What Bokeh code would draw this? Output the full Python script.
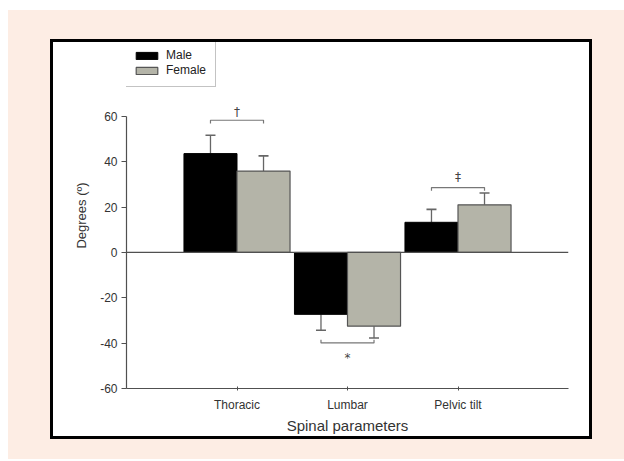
from bokeh.plotting import figure
from bokeh.models import (ColumnDataSource, FixedTicker, Span, Whisker, TeeHead,
                          Legend, LegendItem)
from bokeh.layouts import column
from bokeh.embed import file_html
from bokeh.resources import INLINE
from bokeh.core.properties import value

# ---- data ----
categories = ["Thoracic", "Lumbar", "Pelvic tilt"]
cat_pos = [1, 2, 3]
male = [43.6, -27.3, 13.3]
male_sd = [8.1, 7.0, 5.7]
female = [35.9, -32.5, 21.0]
female_sd = [6.7, 5.2, 5.2]
y_ticks = [-60, -40, -20, 0, 20, 40, 60]
y_tick_labels = ["-60", "-40", "-20", "0", "20", "40", "60"]

# significance brackets
sig_cat = [0, 1, 2]
sig_level = [58.3, -39.9, 28.6]
sig_symbol = ["\u2020", "*", "\u2021"]
sig_symbol_y = [61.8, -46.5, 33.5]
sig_tick = [-1.4, 1.4, -1.4]

W = 0.48
FONT = "Liberation Sans"
PEACH = "#fdede4"
AXIS = "#505050"

p = figure(width=536, height=396, x_range=(0, 4), y_range=(-60, 92.6),
           output_backend="svg", toolbar_location=None,
           min_border_left=73, min_border_right=21, min_border_top=0,
           min_border_bottom=40, frame_height=346, frame_width=442,
           background_fill_color="white", border_fill_color="white")
p.outline_line_color = None
p.grid.visible = False

mx = [c - W / 2 for c in cat_pos]
fx = [c + W / 2 for c in cat_pos]

src_m = ColumnDataSource(dict(x=mx, top=male, sd=male_sd))
src_f = ColumnDataSource(dict(x=fx, top=female, sd=female_sd))

rm = p.vbar(x="x", top="top", bottom=0, width=W, source=src_m,
            fill_color="black", line_color="black", line_width=1)
rf = p.vbar(x="x", top="top", bottom=0, width=W, source=src_f,
            fill_color="#b4b4a8", line_color="#555555", line_width=1.2)

def err_sources(xs, vals, sds):
    pos = dict(base=[], lower=[], upper=[])
    neg = dict(base=[], lower=[], upper=[])
    for x, v, s in zip(xs, vals, sds):
        if v >= 0:
            pos["base"].append(x); pos["lower"].append(v); pos["upper"].append(v + s)
        else:
            neg["base"].append(x); neg["lower"].append(v - s); neg["upper"].append(v)
    return ColumnDataSource(pos), ColumnDataSource(neg)

for xs, vals, sds in [(mx, male, male_sd), (fx, female, female_sd)]:
    ps, ns = err_sources(xs, vals, sds)
    p.add_layout(Whisker(source=ps, base="base", lower="lower", upper="upper",
                         line_color="#666666", line_width=1.3,
                         lower_head=None,
                         upper_head=TeeHead(size=10, line_color="#666666", line_width=1.6)))
    p.add_layout(Whisker(source=ns, base="base", lower="lower", upper="upper",
                         line_color="#666666", line_width=1.3,
                         upper_head=None,
                         lower_head=TeeHead(size=10, line_color="#666666", line_width=1.6)))

p.add_layout(Span(location=0, dimension="width", line_color=AXIS, line_width=1.2))

xs_l, ys_l = [], []
for ci, lvl, tk in zip(sig_cat, sig_level, sig_tick):
    x0, x1 = mx[ci], fx[ci]
    xs_l.append([x0, x0, x1, x1])
    ys_l.append([lvl + tk, lvl, lvl, lvl + tk])
p.multi_line(xs=xs_l, ys=ys_l, line_color="#777777", line_width=1.2)
p.text(x=[cat_pos[c] for c in sig_cat], y=sig_symbol_y, text=sig_symbol,
       text_align="center", text_baseline="middle", text_font=value("DejaVu Sans"),
       text_font_size="12px", text_color="#444444")

p.xaxis.ticker = FixedTicker(ticks=cat_pos)
p.xaxis.major_label_overrides = {c: n for c, n in zip(cat_pos, categories)}
p.xaxis.minor_tick_line_color = None
p.xaxis.major_tick_in = 2
p.xaxis.major_tick_out = 2
p.xaxis.axis_line_color = AXIS
p.xaxis.axis_line_width = 1.2
p.xaxis.major_tick_line_color = AXIS
p.xaxis.major_label_standoff = 7
p.xaxis.axis_label = "Spinal parameters"
p.xaxis.axis_label_standoff = 2

p.yaxis.ticker = FixedTicker(ticks=y_ticks)
p.yaxis.major_label_overrides = {t: l for t, l in zip(y_ticks, y_tick_labels)}
p.yaxis.bounds = (-60, 60)
p.yaxis.minor_tick_line_color = None
p.yaxis.major_tick_in = 0
p.yaxis.major_tick_out = 5
p.yaxis.axis_line_color = AXIS
p.yaxis.axis_line_width = 1.2
p.yaxis.major_tick_line_color = AXIS
p.yaxis.major_label_standoff = 4
p.yaxis.axis_label = "Degrees (\u00ba)"
p.yaxis.axis_label_standoff = 8

for ax in (p.xaxis, p.yaxis):
    ax.major_label_text_font = FONT
    ax.major_label_text_font_size = "12px"
    ax.major_label_text_color = "#333333"
    ax.axis_label_text_font = FONT
    ax.axis_label_text_font_style = "normal"
    ax.axis_label_text_color = "#333333"
p.xaxis.axis_label_text_font_size = "15px"
p.yaxis.axis_label_text_font_size = "13px"

legend = Legend(items=[LegendItem(label="Male", renderers=[rm]),
                       LegendItem(label="Female", renderers=[rf])],
                location=(-3, 301), orientation="vertical",
                glyph_width=27, glyph_height=9, label_standoff=6,
                padding=9, spacing=1, margin=0,
                label_text_font=FONT, label_text_font_size="12px",
                label_text_color="#222222", label_height=12,
                border_line_color="#888888", border_line_width=1.2,
                background_fill_color="white", background_fill_alpha=1)
p.add_layout(legend)

inner = column(p, styles={"border": "3px solid black", "background-color": "white"})
outer = column(inner, styles={"background-color": PEACH,
                              "margin": "10px 0px 0px 8px",
                              "padding": "29px 32px 20px 42px"})

open("out.html", "w").write(file_html(outer, INLINE))
